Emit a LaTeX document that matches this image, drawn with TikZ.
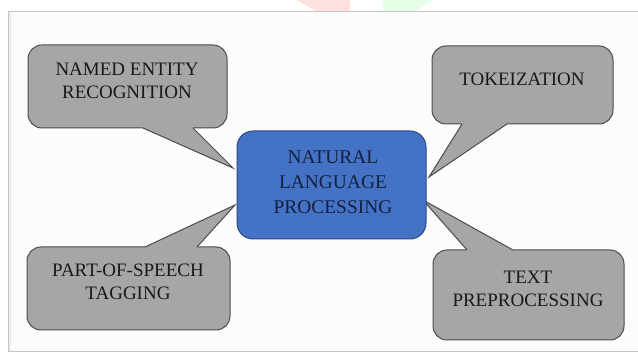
\documentclass[tikz,border=0pt]{standalone}
\usepackage{fontspec}
\setmainfont{Liberation Serif}
\begin{document}
\begin{tikzpicture}[x=1pt,y=-1pt,
  callout/.style={draw=black!70, line width=1pt, fill=calloutgray, rounded corners=14pt, inner sep=0pt},
  centralbox/.style={draw=navyline, line width=1pt, fill=nlpblue, rounded corners=16pt, inner sep=0pt},
  ctext/.style={align=center, text=black!90, font=\fontsize{19}{23}\selectfont, inner sep=0pt},
  mtext/.style={align=center, text=navytext, font=\fontsize{19.4}{25}\selectfont, inner sep=0pt},
  ptrfill/.style={fill=calloutgray, draw=none},
  ptredge/.style={draw=black!70, line width=1pt, line join=miter}
]
\definecolor{calloutgray}{HTML}{A6A6A6}
\definecolor{nlpblue}{HTML}{4472C4}
\definecolor{navyline}{HTML}{2C4A7E}
\definecolor{navytext}{HTML}{14203F}
\definecolor{framegray}{HTML}{C6C6C6}
\useasboundingbox (0,0) rectangle (638,358);
\fill[white] (0,0) rectangle (638,358);
% watermark fragments
\fill[red!12] (297,0) -- (317,12) -- (350,12) -- (350,0) -- cycle;
\fill[green!10] (383,0) -- (383,12) -- (413,12) -- (433,0) -- cycle;
% frame
\fill[black!1] (8,12) rectangle (638,352);
\draw[framegray, line width=1pt] (638,12) -- (8,12) -- (8,352) -- (638,352);
\draw[black!8, line width=2pt] (10,13) -- (10,351);

% callout boxes
\node[callout, minimum width=199pt, minimum height=83pt] (ner) at (127.5,86.5) {};
\node[callout, minimum width=181pt, minimum height=78pt] (tok) at (522.5,85) {};
\node[callout, minimum width=203pt, minimum height=83pt] (pos) at (128.5,288.5) {};
\node[callout, minimum width=191pt, minimum height=90pt] (txt) at (528.5,295) {};

% pointer tips
\coordinate (nertip) at (233,168);
\coordinate (toktip) at (429,177);
\coordinate (postip) at (235,205);
\coordinate (txttip) at (423,200);

% pointer bases
\coordinate (nerb1) at (143,128); \coordinate (nerb2) at (193,128);
\coordinate (tokb1) at (462,124); \coordinate (tokb2) at (507,124);
\coordinate (posb1) at (145,247); \coordinate (posb2) at (197,247);
\coordinate (txtb1) at (467,250); \coordinate (txtb2) at (513,250);

% pointers (bottom edge)
\fill[ptrfill] ([yshift=3pt]nerb1) -- (nerb1) -- (nertip) -- (nerb2) -- ([yshift=3pt]nerb2) -- cycle;
\draw[ptredge] (nerb1) -- (nertip) -- (nerb2);
\fill[ptrfill] ([yshift=3pt]tokb1) -- (tokb1) -- (toktip) -- (tokb2) -- ([yshift=3pt]tokb2) -- cycle;
\draw[ptredge] (tokb1) -- (toktip) -- (tokb2);
% pointers (top edge)
\fill[ptrfill] ([yshift=-3pt]posb1) -- (posb1) -- (postip) -- (posb2) -- ([yshift=-3pt]posb2) -- cycle;
\draw[ptredge] (posb1) -- (postip) -- (posb2);
\fill[ptrfill] ([yshift=-3pt]txtb1) -- (txtb1) -- (txttip) -- (txtb2) -- ([yshift=-3pt]txtb2) -- cycle;
\draw[ptredge] (txtb1) -- (txttip) -- (txtb2);

% central box
\node[centralbox, minimum width=189pt, minimum height=108pt] (nlp) at (331.5,185) {};

% texts
\node[ctext] (nert) at (127,80.5) {NAMED ENTITY\\RECOGNITION};
\node[ctext] (tokt) at (522,79) {TOKEIZATION};
\node[ctext] (post) at (128,281.5) {PART-OF-SPEECH\\TAGGING};
\node[ctext] (txtt) at (528,288.5) {TEXT\\PREPROCESSING};
\node[mtext] (nlpt) at (333,182) {NATURAL\\LANGUAGE\\PROCESSING};
\end{tikzpicture}
\end{document}
